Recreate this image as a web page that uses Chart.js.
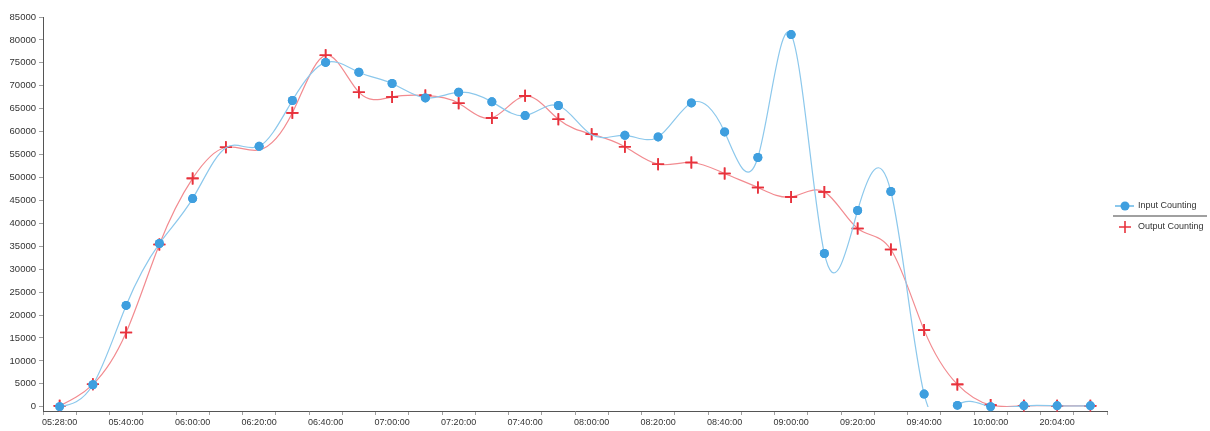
<!DOCTYPE html>
<html>
<head>
<meta charset="utf-8">
<title>Input / Output Counting</title>
<script src="https://cdn.jsdelivr.net/npm/chart.js@4.4.1/dist/chart.umd.min.js"></script>
<style>
  html, body { margin: 0; padding: 0; background: #fff; }
  #wrap { position: relative; width: 1210px; height: 431px; }
</style>
</head>
<body>
<div id="wrap"><canvas id="countChart" width="1210" height="431"></canvas></div>
<script>
// Time slots on the x axis (only every other one gets a label)
const timeLabels = [
  '05:28:00', '05:30:00', '05:40:00', '05:50:00', '06:00:00', '06:10:00', '06:20:00', '06:30:00',
  '06:40:00', '06:50:00', '07:00:00', '07:10:00', '07:20:00', '07:30:00', '07:40:00', '07:50:00',
  '08:00:00', '08:10:00', '08:20:00', '08:30:00', '08:40:00', '08:50:00', '09:00:00', '09:10:00',
  '09:20:00', '09:30:00', '09:40:00', '09:50:00', '10:00:00', '10:10:00', '20:04:00', '20:10:00'
];

const inputCounting = [
  0, 4800, 22100, 35600, 45400, 56500, 56800, 66800,
  75100, 72950, 70500, 67350, 68600, 66500, 63500, 65700,
  59300, 59200, 58850, 66260, 59940, 54360, 81170, 33430,
  42800, 46950, 2770, 300, 0, 200, 200, 200
];

const outputCounting = [
  200, 4900, 16200, 35400, 49800, 56600, 56000, 64100,
  76650, 68600, 67570, 67900, 66200, 63000, 67800, 62700,
  59450, 56700, 52900, 53270, 50870, 47820, 45770, 46860,
  38880, 34300, 16720, 4880, 370, 200, 200, 200
];

const yTickValues = [0, 5000, 10000, 15000, 20000, 25000, 30000, 35000, 40000,
  45000, 50000, 55000, 60000, 65000, 70000, 75000, 80000, 85000];

// the original shows no marker on these slots (line still passes through)
const noInputMarker = [5, 16];
const noOutputMarker = [6];

const FONT = 'Liberation Sans, Arial, sans-serif';
const BLUE_POINT = '#3f9fdf';
const BLUE_LINE = '#8cc8ec';
const RED_POINT = '#e8323c';
const RED_LINE = '#f28b90';

// slopes of a natural cubic spline through evenly spaced ys (tridiagonal solve)
function naturalSlopes(ys) {
  const n = ys.length;
  const c = [], d = [];
  const diag = i => (i === 0 || i === n - 1) ? 2 : 4;
  const rhs = i => {
    if (i === 0) return 3 * (ys[1] - ys[0]);
    if (i === n - 1) return 3 * (ys[n - 1] - ys[n - 2]);
    return 3 * (ys[i + 1] - ys[i - 1]);
  };
  c[0] = 1 / diag(0);
  d[0] = rhs(0) / diag(0);
  for (let i = 1; i < n; i++) {
    const m = diag(i) - c[i - 1];
    c[i] = 1 / m;
    d[i] = (rhs(i) - d[i - 1]) / m;
  }
  const slopes = [];
  slopes[n - 1] = d[n - 1];
  for (let i = n - 2; i >= 0; i--) slopes[i] = d[i] - c[i] * slopes[i + 1];
  return slopes;
}

// The original curves ring like a natural spline, so replace Chart.js'
// own control points with the spline's before each line is drawn
const naturalSpline = {
  id: 'naturalSpline',
  beforeDatasetDraw(chart, args) {
    const line = args.meta.dataset;
    const pts = args.meta.data;
    line.updateControlPoints(chart.chartArea, 'x');
    const slopes = naturalSlopes(pts.map(p => p.y));
    const step = pts.length > 1 ? (pts[1].x - pts[0].x) : 0;
    pts.forEach((p, i) => {
      p.cp1x = p.x - step / 3;
      p.cp1y = p.y - slopes[i] / 3;
      p.cp2x = p.x + step / 3;
      p.cp2y = p.y + slopes[i] / 3;
    });
    delete line._path;
  },
  // lines are cut at the zero level, markers are not
  afterDatasetDraw(chart, args) {
    args.meta.data.forEach(p => p.draw(chart.ctx, chart.chartArea));
  }
};

// Legend on the right, drawn by hand (line + marker, separator between entries)
const sideLegend = {
  id: 'sideLegend',
  afterDraw(chart) {
    const ctx = chart.ctx;
    ctx.save();
    // Input Counting
    ctx.strokeStyle = BLUE_LINE;
    ctx.lineWidth = 2;
    ctx.beginPath();
    ctx.moveTo(1115, 206);
    ctx.lineTo(1134, 206);
    ctx.stroke();
    ctx.fillStyle = BLUE_POINT;
    ctx.beginPath();
    ctx.arc(1125, 206, 4.5, 0, Math.PI * 2);
    ctx.fill();

    // separator
    ctx.strokeStyle = '#808080';
    ctx.lineWidth = 1.3;
    ctx.beginPath();
    ctx.moveTo(1113, 216);
    ctx.lineTo(1207, 216);
    ctx.stroke();

    // Output Counting
    ctx.strokeStyle = RED_POINT;
    ctx.lineWidth = 1.6;
    ctx.beginPath();
    ctx.moveTo(1119, 227);
    ctx.lineTo(1131, 227);
    ctx.moveTo(1125, 221);
    ctx.lineTo(1125, 233);
    ctx.stroke();

    ctx.fillStyle = '#333';
    ctx.font = '9px ' + FONT;
    ctx.textBaseline = 'middle';
    ctx.textAlign = 'left';
    ctx.fillText(chart.data.datasets[0].label, 1138, 206);
    ctx.fillText(chart.data.datasets[1].label, 1138, 227);
    ctx.restore();
  }
};

const ctx = document.getElementById('countChart').getContext('2d');
new Chart(ctx, {
  type: 'line',
  data: {
    labels: timeLabels,
    datasets: [
      {
        label: 'Input Counting',
        data: inputCounting,
        borderColor: BLUE_LINE,
        borderWidth: 1.2,
        backgroundColor: BLUE_POINT,
        pointBackgroundColor: BLUE_POINT,
        pointBorderColor: BLUE_POINT,
        pointRadius: c => noInputMarker.includes(c.dataIndex) ? 0 : 4.5,
        pointBorderWidth: 0,
        pointStyle: 'circle',
        tension: 0.4,
        clip: { left: 10, top: 0, right: 10, bottom: -4 },
        fill: false
      },
      {
        label: 'Output Counting',
        data: outputCounting,
        borderColor: RED_LINE,
        borderWidth: 1.2,
        pointBorderColor: RED_POINT,
        pointBackgroundColor: RED_POINT,
        pointRadius: c => noOutputMarker.includes(c.dataIndex) ? 0 : 6,
        pointBorderWidth: 1.6,
        pointStyle: 'cross',
        tension: 0.4,
        clip: { left: 10, top: 0, right: 10, bottom: -4 },
        fill: false
      }
    ]
  },
  options: {
    responsive: false,
    animation: false,
    events: [],
    layout: { padding: { top: 17, right: 103, left: 0, bottom: 0 } },
    plugins: {
      legend: { display: false },
      tooltip: { enabled: false }
    },
    scales: {
      x: {
        type: 'category',
        offset: true,
        grid: { display: true, offset: true, drawOnChartArea: false, tickLength: 4, tickColor: '#a0a0a0' },
        border: { display: true, color: '#555', width: 1 },
        ticks: {
          autoSkip: false,
          maxRotation: 0,
          padding: 2,
          color: '#333',
          font: { family: FONT, size: 9 },
          callback: function (value, index) {
            return index % 2 === 0 ? this.getLabelForValue(value) : '';
          }
        },
        afterFit: scale => { scale.height = 20; }
      },
      y: {
        min: -920,
        max: 85000,
        grid: { display: true, drawOnChartArea: false, tickLength: 4, tickColor: '#a0a0a0' },
        border: { display: true, color: '#555', width: 1 },
        ticks: {
          padding: 3,
          color: '#333',
          font: { family: FONT, size: 9.5 },
          callback: value => String(value)
        },
        afterBuildTicks: scale => {
          scale.ticks = yTickValues.map(v => ({ value: v }));
        },
        afterFit: scale => { scale.width = 43; }
      }
    }
  },
  plugins: [naturalSpline, sideLegend]
});
</script>
</body>
</html>
